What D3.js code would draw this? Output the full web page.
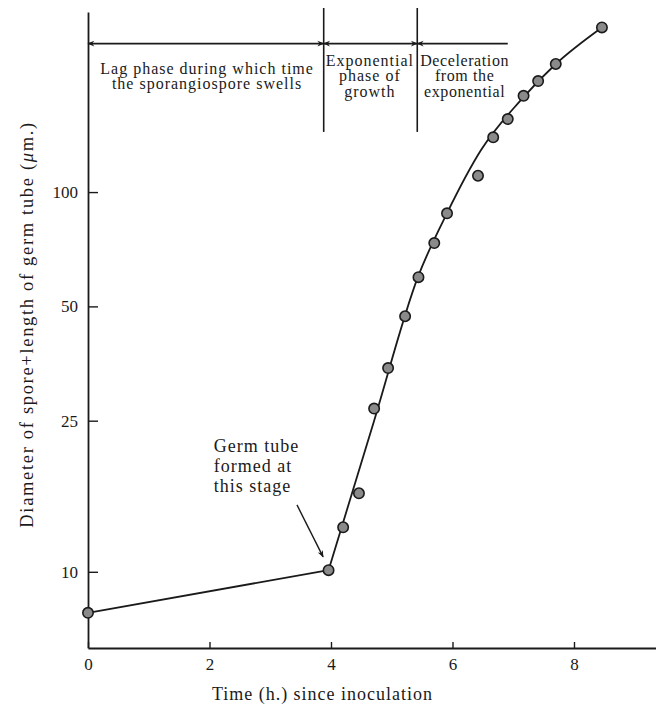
<!DOCTYPE html>
<html>
<head>
<meta charset="utf-8">
<script src="https://cdn.jsdelivr.net/npm/d3@7/dist/d3.min.js"></script>
<style>
  html, body { margin: 0; padding: 0; background: #fff; }
  svg { display: block; }
  text { font-family: "Liberation Serif", "DejaVu Serif", serif; fill: #1a1a1a; }
</style>
</head>
<body>
<div id="chart"></div>
<script>
// Observed growth of a sporangiospore: time since inoculation (h) and
// diameter of spore + length of germ tube (µm), log scale.
const timeH  = [0, 3.96, 4.20, 4.46, 4.71, 4.94, 5.22, 5.44, 5.70, 5.91, 6.42, 6.67, 6.91, 7.17, 7.41, 7.70, 8.46];
const sizeUm = [7.8, 10.1, 13.1, 16.1, 26.9, 34.4, 47.1, 59.7, 73.4, 87.9, 110.4, 139.4, 155.7, 179.3, 196, 217.4, 271.4];

// Hand-fitted curve: straight lag segment, then exponential rise bending over.
const lagTime = [0, 3.96];
const lagSize = [7.8, 10.1];
const fitTime = [3.96, 4.70, 5.43, 5.91, 6.47, 7.11, 7.70, 8.46];
const fitSize = [10.1, 24.7, 59.7, 88, 129, 173.6, 217.4, 271.4];

// Axis ticks
const xTicks = [0, 2, 4, 6, 8];
const yTicks = [10, 25, 50, 100];

// Phases marked along the top of the plot
const phaseBounds = [0, 3.88, 5.42, 6.91];
const phaseLabels = [
  ["Lag phase during which time", "the sporangiospore swells"],
  ["Exponential", "phase of", "growth"],
  ["Deceleration", "from the", "exponential"]
];
const phaseLabelX = [1.96, 4.64, 6.2];

const W = 656, H = 714;
const margin = { left: 88, right: 0, top: 12, bottom: 66 };

const svg = d3.select("#chart").append("svg")
  .attr("width", W).attr("height", H);

svg.append("rect").attr("width", W).attr("height", H).attr("fill", "#fff");

const x = d3.scaleLinear().domain([0, 9.35]).range([margin.left, W - margin.right]);
const y = d3.scaleLog().domain([6.3, 298]).range([H - margin.bottom, margin.top]);

// Arrowheads
const defs = svg.append("defs");
defs.append("marker")
  .attr("id", "head").attr("viewBox", "0 -5 10 10")
  .attr("refX", 9).attr("refY", 0)
  .attr("markerWidth", 9).attr("markerHeight", 7)
  .attr("markerUnits", "userSpaceOnUse")
  .attr("orient", "auto-start-reverse")
  .append("path").attr("d", "M0,-4 L10,0 L0,4 L3,0 Z").attr("fill", "#1a1a1a");

// X axis
const xAxis = svg.append("g")
  .attr("transform", `translate(0,${y.range()[0]})`)
  .call(d3.axisBottom(x).tickValues(xTicks).tickSizeInner(-6).tickSizeOuter(0)
    .tickPadding(10).tickFormat(d3.format("d")));
xAxis.select(".domain").attr("stroke", "#1a1a1a").attr("stroke-width", 1.8);
xAxis.selectAll(".tick line").attr("stroke", "#1a1a1a").attr("stroke-width", 1.4);
xAxis.selectAll(".tick text").attr("font-size", 17).attr("fill", "#1a1a1a")
  .attr("font-family", "Liberation Serif, serif");

// Y axis
const yAxis = svg.append("g")
  .attr("transform", `translate(${margin.left},0)`)
  .call(d3.axisLeft(y).tickValues(yTicks).tickSizeInner(-10).tickSizeOuter(0)
    .tickPadding(10).tickFormat(d3.format("d")));
yAxis.select(".domain").attr("stroke", "#1a1a1a").attr("stroke-width", 1.8);
yAxis.selectAll(".tick line").attr("stroke", "#1a1a1a").attr("stroke-width", 1.4);
yAxis.selectAll(".tick text").attr("font-size", 17).attr("fill", "#1a1a1a")
  .attr("font-family", "Liberation Serif, serif");

// Axis titles
svg.append("text")
  .attr("x", x(3.85)).attr("y", H - 14)
  .attr("text-anchor", "middle").attr("font-size", 18)
  .attr("textLength", 220).attr("lengthAdjust", "spacing")
  .text("Time (h.) since inoculation");

const yTitle = svg.append("text")
  .attr("transform", `translate(27,${y(44.6)}) rotate(-90)`)
  .attr("text-anchor", "middle").attr("dominant-baseline", "central")
  .attr("font-size", 18.5)
  .attr("textLength", 405).attr("lengthAdjust", "spacing");
yTitle.append("tspan").text("Diameter of spore+length of germ tube (");
yTitle.append("tspan").attr("font-style", "italic").text("\u03bc");
yTitle.append("tspan").text("m.)");

// Phase dividers and arrows
const arrowY = y(246);
const dividerTop = margin.top - 4;
const dividerBottom = y(144);

[phaseBounds[1], phaseBounds[2]].forEach(t => {
  svg.append("line")
    .attr("x1", x(t)).attr("x2", x(t))
    .attr("y1", dividerTop).attr("y2", dividerBottom)
    .attr("stroke", "#1a1a1a").attr("stroke-width", 1.6);
});

for (let i = 0; i < 3; i++) {
  const line = svg.append("line")
    .attr("x1", x(phaseBounds[i])).attr("x2", x(phaseBounds[i + 1]))
    .attr("y1", arrowY).attr("y2", arrowY)
    .attr("stroke", "#1a1a1a").attr("stroke-width", 1.6)
    .attr("marker-start", "url(#head)");
  if (i < 2) line.attr("marker-end", "url(#head)");
}

phaseLabels.forEach((lines, i) => {
  const top = i === 0 ? arrowY + 30 : arrowY + 22;
  const t = svg.append("text")
    .attr("x", x(phaseLabelX[i])).attr("y", top)
    .attr("text-anchor", "middle").attr("font-size", 16)
    .attr("letter-spacing", i === 2 ? 0.6 : 1);
  lines.forEach((s, k) => {
    t.append("tspan").attr("x", x(phaseLabelX[i])).attr("dy", k === 0 ? 0 : 15.5).text(s);
  });
});

// Fitted curve
svg.append("path")
  .datum(d3.zip(lagTime, lagSize))
  .attr("d", d3.line().x(d => x(d[0])).y(d => y(d[1])))
  .attr("fill", "none").attr("stroke", "#1a1a1a").attr("stroke-width", 1.8);
svg.append("path")
  .datum(d3.zip(fitTime, fitSize))
  .attr("d", d3.line().x(d => x(d[0])).y(d => y(d[1])).curve(d3.curveMonotoneX))
  .attr("fill", "none").attr("stroke", "#1a1a1a").attr("stroke-width", 1.8);

// Observations
svg.append("g").selectAll("circle")
  .data(d3.zip(timeH, sizeUm))
  .join("circle")
  .attr("cx", d => x(d[0])).attr("cy", d => y(d[1])).attr("r", 5.2)
  .attr("fill", "#8a8a8a").attr("stroke", "#1a1a1a").attr("stroke-width", 1.6);

// Germ tube note
const note = svg.append("text")
  .attr("x", x(2.07)).attr("y", y(20.7))
  .attr("font-size", 18).attr("letter-spacing", 1);
["Germ tube", "formed at", "this stage"].forEach((s, k) => {
  note.append("tspan").attr("x", x(2.07)).attr("dy", k === 0 ? 0 : 20).text(s);
});
svg.append("line")
  .attr("x1", x(3.44)).attr("y1", y(15.0))
  .attr("x2", x(3.87)).attr("y2", y(10.95))
  .attr("stroke", "#1a1a1a").attr("stroke-width", 1.4)
  .attr("marker-end", "url(#head)");
</script>
</body>
</html>
